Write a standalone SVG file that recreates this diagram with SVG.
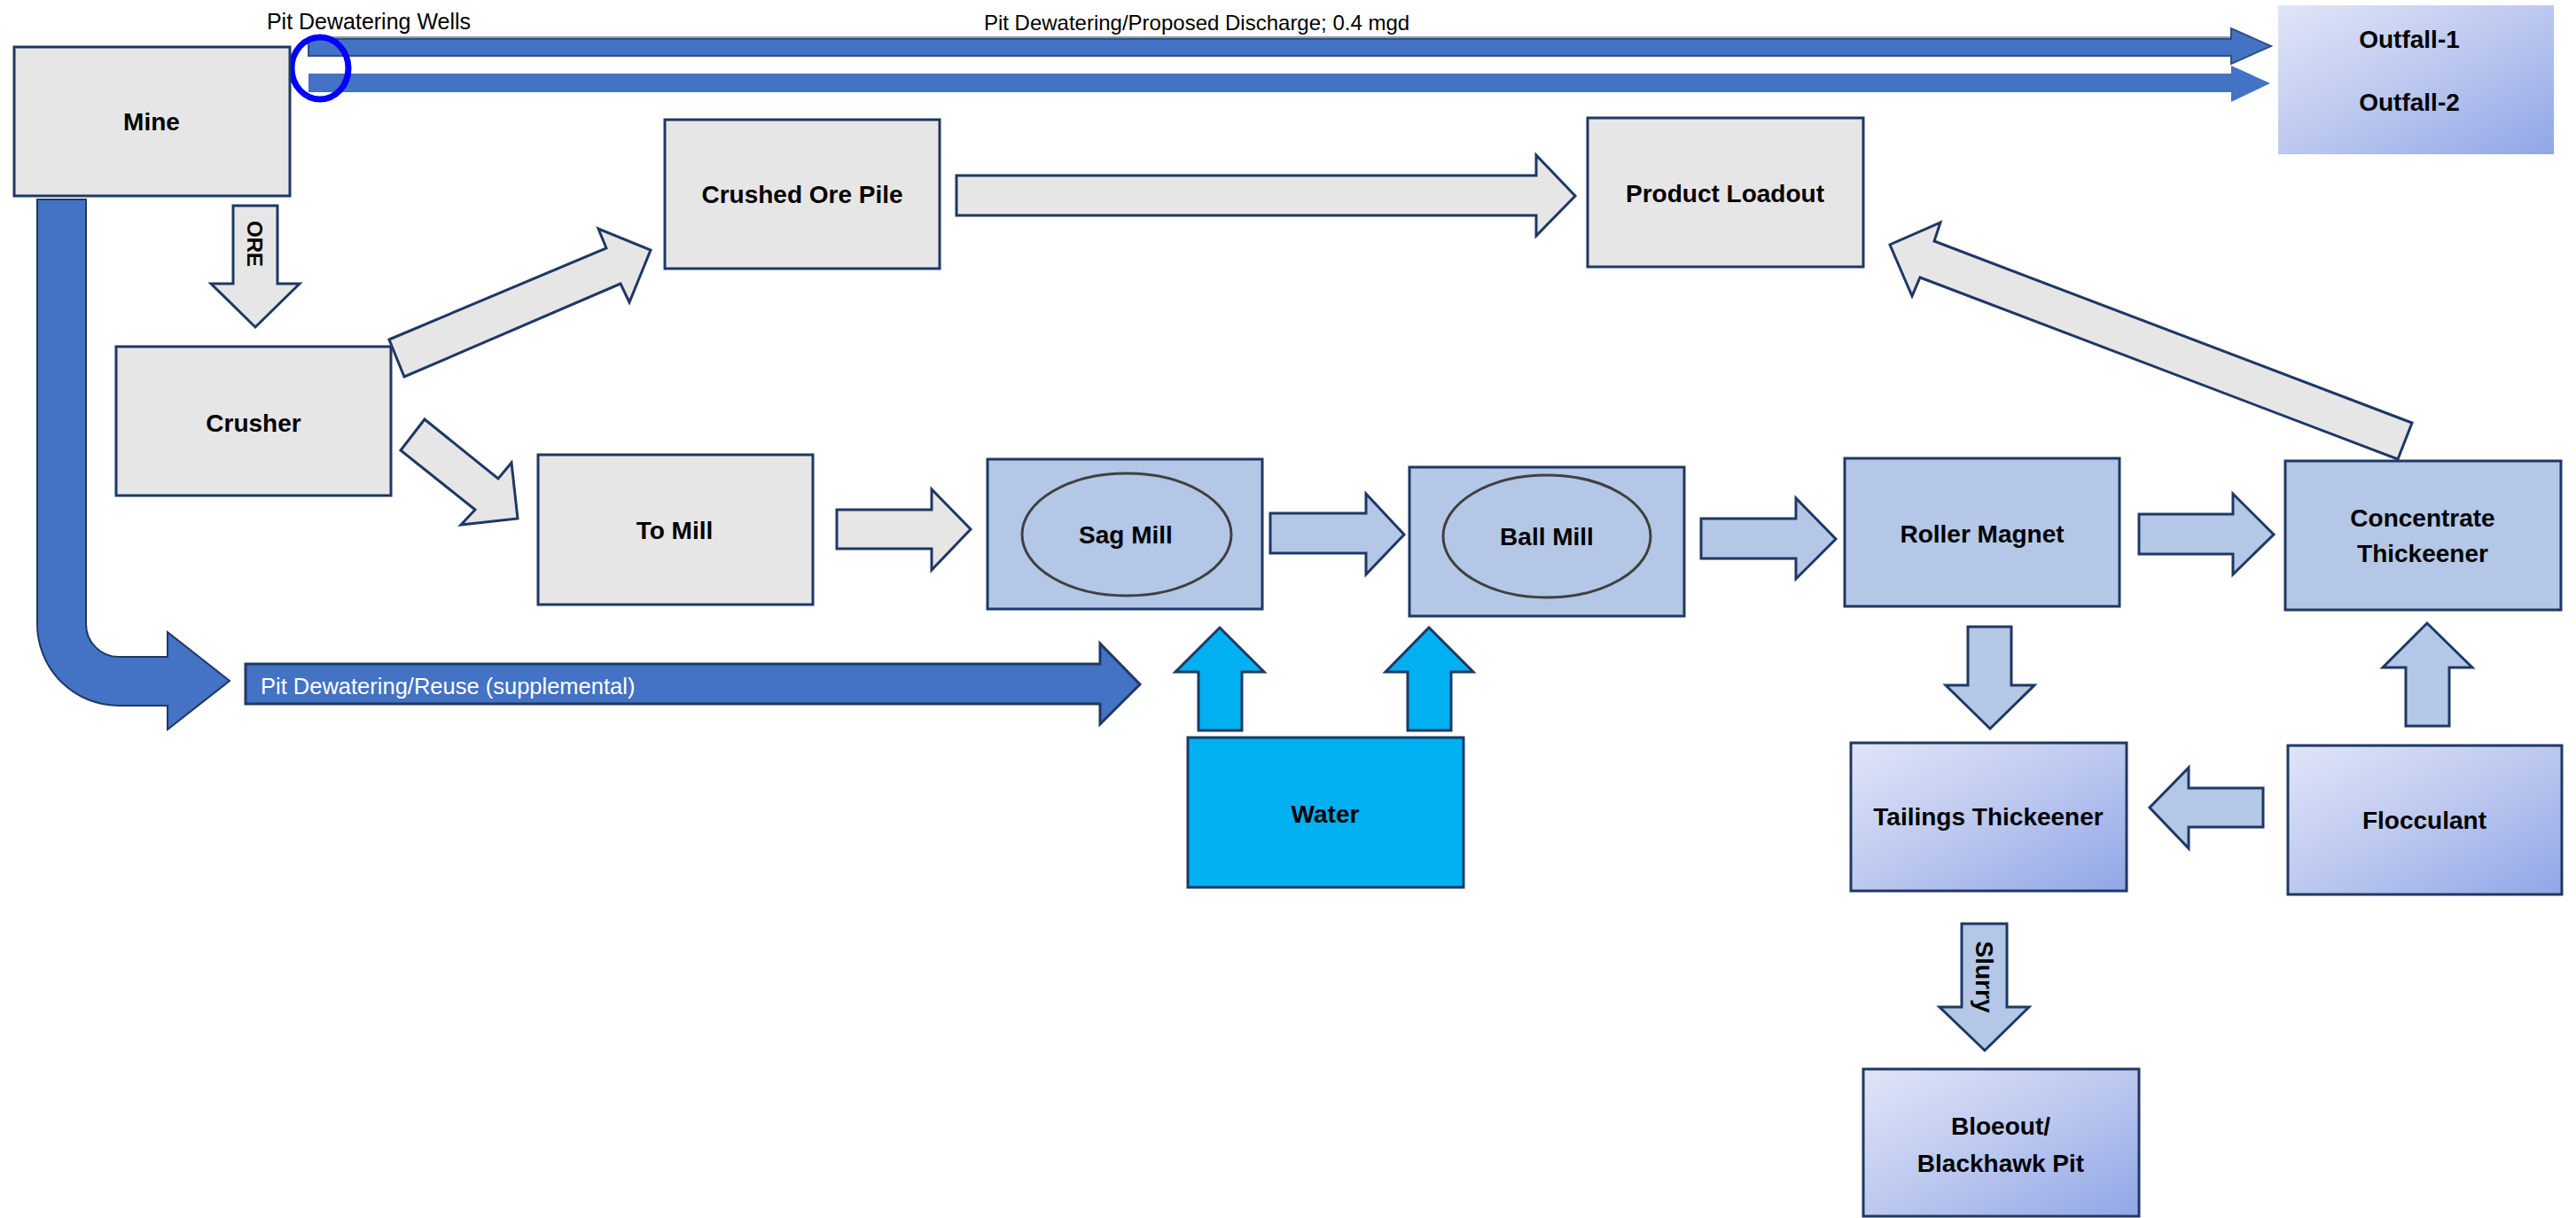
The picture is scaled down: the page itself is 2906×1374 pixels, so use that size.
<svg xmlns="http://www.w3.org/2000/svg" width="2906" height="1374" viewBox="0 0 2906 1374">
<defs>
<linearGradient id="grad" x1="0" y1="0" x2="1" y2="1">
<stop offset="0" stop-color="#e0e5f7"/>
<stop offset="0.5" stop-color="#bcc8ef"/>
<stop offset="1" stop-color="#91a6e6"/>
</linearGradient>
<style>
.box{stroke:#1f3864;stroke-width:3}
.gray{fill:#e6e6e6}
.blue{fill:#b4c7e7}
.water{fill:#00b0f0}
.grad{fill:url(#grad)}
.arr{stroke:#1f3864;stroke-width:3;stroke-linejoin:miter}
.pipe{fill:#4472c4}
.lbl{font-family:"Liberation Sans",Arial,sans-serif;font-weight:bold;font-size:28px;fill:#000;text-anchor:middle}
.sm{font-family:"Liberation Sans",Arial,sans-serif;font-size:24px;fill:#000}
.ell{fill:none;stroke:#404040;stroke-width:3}
</style>
</defs>
<rect width="2906" height="1374" fill="#fff"/>

<g id="connectors">
<line x1="348" y1="42" x2="2517" y2="42" stroke="#8d9ab0" stroke-width="2"/>
<polygon class="pipe" stroke="#2f4f86" stroke-width="2" points="348,44 2517,44 2517,32 2562,52 2517,72 2517,63 348,63"/>
<polygon class="pipe" points="348,83 2517,83 2517,74 2561,94 2517,115 2517,104 348,104"/>
<ellipse cx="361" cy="77" rx="32" ry="35" fill="none" stroke="#0000ff" stroke-width="7"/>
<path class="pipe" stroke="#1f3864" stroke-width="2" d="M42 225 L97 225 L97 704 A37 37 0 0 0 134 741 L189 741 L189 713 L259 768 L189 823 L189 796 L134 796 A92 92 0 0 1 42 704 Z"/>
<polygon class="pipe" stroke="#1f3864" stroke-width="3" points="277,749 1241,749 1241,726 1286,772 1241,817 1241,794 277,794"/>
<polygon class="gray arr" points="263,232 313,232 313,320 338,320 288,369 238,320 263,320"/>
<polygon class="gray arr" points="439,383 684,280 675,258 734,282 710,341 700,320 456,425"/>
<polygon class="gray arr" points="479,473 562,540 577,522 584,585 520,592 536,575 452,508"/>
<polygon class="gray arr" points="1079,198 1733,198 1733,175 1777,221 1733,266 1733,243 1079,243"/>
<polygon class="gray arr" points="944,575 1051,575 1051,552 1095,597 1051,643 1051,619 944,619"/>
<polygon class="blue arr" points="1433,579 1541,579 1541,557 1584,603 1541,648 1541,624 1433,624"/>
<polygon class="blue arr" points="1919,585 2026,585 2026,562 2071,608 2026,653 2026,630 1919,630"/>
<polygon class="blue arr" points="2413,580 2519,580 2519,557 2565,603 2519,648 2519,625 2413,625"/>
<polygon class="gray arr" points="2721,477 2182,272 2189,251 2132,276 2157,334 2166,313 2705,518"/>
<polygon class="blue arr" points="2220,707 2269,707 2269,773 2295,773 2245,822 2195,773 2220,773"/>
<polygon class="blue arr" points="2553,889 2469,889 2469,866 2425,911 2469,957 2469,933 2553,933"/>
<polygon class="blue arr" points="2714,819 2714,753 2688,753 2738,703 2789,753 2763,753 2763,819"/>
<polygon class="blue arr" points="2213,1042 2264,1042 2264,1136 2289,1136 2239,1185 2188,1136 2213,1136"/>
<polygon class="water arr" points="1352,824 1352,758 1326,758 1376,708 1426,758 1401,758 1401,824"/>
<polygon class="water arr" points="1588,824 1588,758 1563,758 1612,708 1662,758 1637,758 1637,824"/>
<text class="sm" x="416" y="33" text-anchor="middle" style="font-size:25px">Pit Dewatering Wells</text>
<text class="sm" x="1350" y="34" text-anchor="middle">Pit Dewatering/Proposed Discharge; 0.4 mgd</text>
<text class="sm" x="294" y="783" style="fill:#fff;font-size:25.5px">Pit Dewatering/Reuse (supplemental)</text>
<text class="lbl" style="font-size:24px" transform="translate(279,275) rotate(90)">ORE</text>
<text class="lbl" transform="translate(2229,1102) rotate(90)">Slurry</text>
</g>

<g id="mine"><rect class="box gray" x="16" y="53" width="311" height="168"/><text class="lbl" x="171" y="147">Mine</text></g>
<g id="outfall"><rect class="grad" x="2570" y="6" width="311" height="168"/><text class="lbl" x="2718" y="54">Outfall-1</text><text class="lbl" x="2718" y="125">Outfall-2</text></g>
<g id="crushed-ore-pile"><rect class="box gray" x="750" y="135" width="310" height="168"/><text class="lbl" x="905" y="229">Crushed Ore Pile</text></g>
<g id="product-loadout"><rect class="box gray" x="1791" y="133" width="311" height="168"/><text class="lbl" x="1946" y="228">Product Loadout</text></g>
<g id="crusher"><rect class="box gray" x="131" y="391" width="310" height="168"/><text class="lbl" x="286" y="487">Crusher</text></g>
<g id="to-mill"><rect class="box gray" x="607" y="513" width="310" height="169"/><text class="lbl" x="761" y="608">To Mill</text></g>
<g id="sag-mill"><rect class="box blue" x="1114" y="518" width="310" height="169"/><ellipse class="ell" cx="1271" cy="603" rx="118" ry="69"/><text class="lbl" x="1270" y="613">Sag Mill</text></g>
<g id="ball-mill"><rect class="box blue" x="1590" y="527" width="310" height="168"/><ellipse class="ell" cx="1745" cy="605" rx="117" ry="69"/><text class="lbl" x="1745" y="615">Ball Mill</text></g>
<g id="roller-magnet"><rect class="box blue" x="2081" y="517" width="310" height="167"/><text class="lbl" x="2236" y="612">Roller Magnet</text></g>
<g id="concentrate-thickeener"><rect class="box blue" x="2578" y="520" width="311" height="168"/><text class="lbl" x="2733" y="594">Concentrate</text><text class="lbl" x="2733" y="634">Thickeener</text></g>
<g id="water"><rect class="box water" x="1340" y="832" width="311" height="169"/><text class="lbl" x="1495" y="928">Water</text></g>
<g id="tailings-thickeener"><rect class="box grad" x="2088" y="838" width="311" height="167"/><text class="lbl" x="2243" y="931">Tailings Thickeener</text></g>
<g id="flocculant"><rect class="box grad" x="2581" y="841" width="309" height="168"/><text class="lbl" x="2735" y="935">Flocculant</text></g>
<g id="bloeout"><rect class="box grad" x="2102" y="1206" width="311" height="166"/><text class="lbl" x="2257" y="1280">Bloeout/</text><text class="lbl" x="2257" y="1322">Blackhawk Pit</text></g>
</svg>
